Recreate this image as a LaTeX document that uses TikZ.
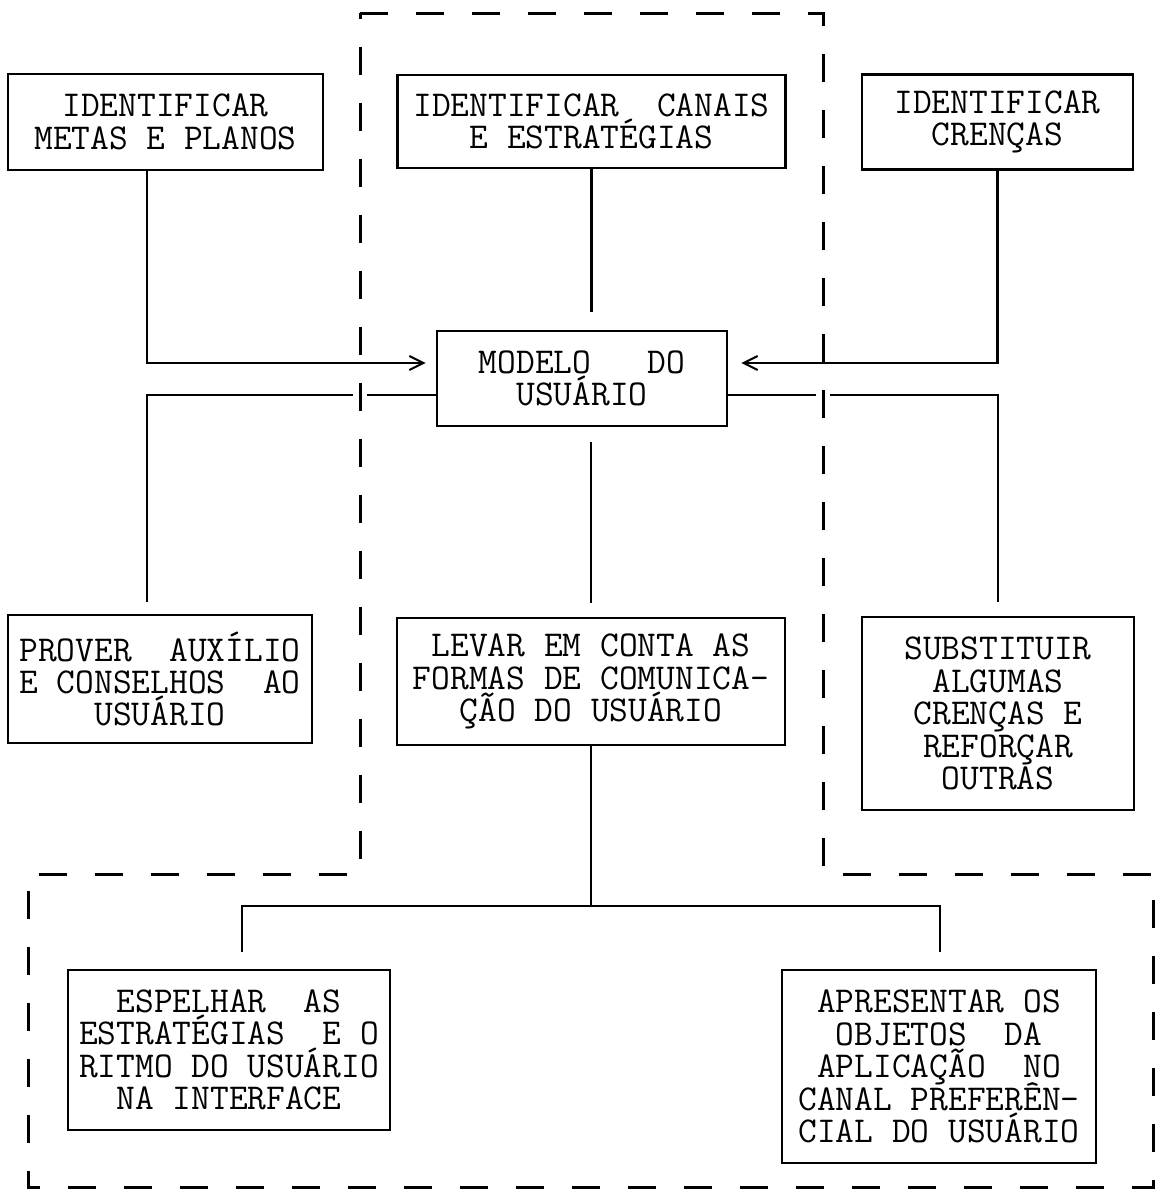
\documentclass[tikz,border=0pt]{standalone}
\usepackage{tikz}
\usetikzlibrary{arrows.meta,calc}
\newcommand{\boxfont}{\ttfamily\fontsize{18.2}{16.2}\selectfont\setlength{\lineskiplimit}{-20pt}}

\begin{document}
\begin{tikzpicture}[
  x=0.5pt, y=-0.5pt,
  box/.style={draw, line width=1.4pt, inner sep=0pt, align=center,
              minimum width=#1, font=\boxfont},
  conn/.style={line width=1.4pt},
  arr/.style={-{Straight Barb[length=7pt, width=7pt, line width=1pt]}, line width=1.4pt},
  frame/.style={line width=1.5pt, dash pattern=on 14pt off 14pt,
                preaction={draw=white, line width=7pt, dash pattern=on 14pt off 14pt}}
]
  \useasboundingbox (0,0) rectangle (1162,1195);

  \node[box=157.5pt, minimum height=48pt]   (meta)     at (165.5,122)  {IDENTIFICAR\\METAS E PLANOS};
  \node[box=194pt,   minimum height=46.5pt] (canal)    at (591.5,121.5) {IDENTIFICAR\ \ CANAIS\\E ESTRATÉGIAS};
  \node[box=135.5pt, minimum height=47.5pt] (crenca)   at (997.5,122)  {IDENTIFICAR\\CRENÇAS};
  \node[box=145pt,   minimum height=47.5pt] (modelo)   at (582,378.5)  {MODELO\ \ \ DO\\USUÁRIO};
  \node[box=152pt,   minimum height=64pt]   (prover)   at (160,679)    {PROVER\ \ AUXÍLIO\\E CONSELHOS\ \ AO\\USUÁRIO};
  \node[box=194pt,   minimum height=63.5pt] (levar)    at (591,681.5)  {LEVAR EM CONTA AS\\FORMAS DE COMUNICA-\\ÇÃO DO USUÁRIO};
  \node[box=136pt,   minimum height=96.5pt] (subst)    at (998,713.5)  {SUBSTITUIR\\ALGUMAS\\CRENÇAS E\\REFORÇAR\\OUTRAS};
  \node[box=161pt,   minimum height=80pt]   (espelhar) at (229,1050)   {ESPELHAR\ \ AS\\ESTRATÉGIAS\ \ E O\\RITMO DO USUÁRIO\\NA INTERFACE};
  \node[box=157pt,   minimum height=96.5pt] (apres)    at (939,1066.5) {APRESENTAR OS\\OBJETOS\ \ DA\\APLICAÇÃO\ \ NO\\CANAL PREFERÊN-\\CIAL DO USUÁRIO};
  \coordinate (split) at (591,906);

  \draw[arr]  ($(meta.south)+(-18.5,0)$) |- ($(modelo.west)+(-10,-15.5)$);
  \draw[arr]  (crenca.south) |- ($(modelo.east)+(13,-15.5)$);
  \draw[conn] (canal.south) -- ($(canal.south |- modelo.north)+(0,-18)$);
  \draw[conn] ($(modelo.west)+(0,16.5)$) -| ($(prover.north)+(-13,-12)$);
  \draw[conn] ($(modelo.east)+(0,16.5)$) -| ($(subst.north)+(0,-14)$);
  \draw[conn] ($(levar.north |- modelo.south)+(0,15)$) -- ($(levar.north)+(0,-14)$);
  \draw[conn] (levar.south) -- (split);
  \draw[conn] (split) -| ($(espelhar.north)+(13,-17)$);
  \draw[conn] (split) -| ($(apres.north)+(1,-17)$);

  \draw[frame] (360,13) -- (823,13) -- (823,874) -- (1153,874) -- (1153,1187)
    -- (28,1187) -- (28,874) -- (360,874) -- cycle;
\end{tikzpicture}
\end{document}
